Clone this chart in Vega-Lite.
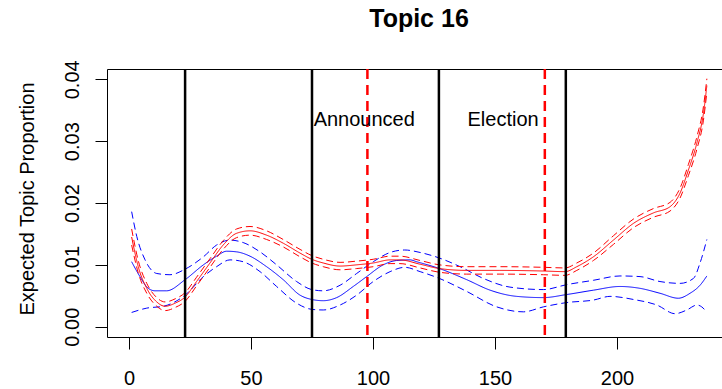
{
  "$schema": "https://vega.github.io/schema/vega-lite/v6.json",
  "width": 615,
  "height": 268,
  "autosize": {"type": "none"},
  "padding": {"left": 107, "top": 69, "right": 0, "bottom": 52},
  "background": "white",
  "config": {
    "font": "Liberation Sans",
    "view": {"stroke": "black", "strokeWidth": 1},
    "axis": {
      "grid": false, "domain": false, "tickColor": "black", "tickSize": 12, "tickWidth": 1,
      "labelColor": "black", "labelFontSize": 20, "labelFont": "Liberation Sans",
      "titleColor": "black", "titleFont": "Liberation Sans", "titleFontSize": 20, "titleFontWeight": "normal"
    }
  },
  "title": {
    "text": "Topic 16", "fontSize": 25, "fontWeight": "bold", "font": "Liberation Sans", "color": "black",
    "anchor": "middle", "frame": "group", "baseline": "alphabetic", "offset": 8, "dx": 4.5
  },
  "datasets": {
    "curves": [
      {"group":"control","band":"mean","x":1.1,"y":0.0105},
      {"group":"control","band":"mean","x":4.5,"y":0.0081},
      {"group":"control","band":"mean","x":7.9,"y":0.0062},
      {"group":"control","band":"mean","x":10.7,"y":0.0058},
      {"group":"control","band":"mean","x":15.4,"y":0.0058},
      {"group":"control","band":"mean","x":23,"y":0.0076},
      {"group":"control","band":"mean","x":30.5,"y":0.0100},
      {"group":"control","band":"mean","x":35.9,"y":0.0114},
      {"group":"control","band":"mean","x":40,"y":0.0122},
      {"group":"control","band":"mean","x":44.1,"y":0.0121},
      {"group":"control","band":"mean","x":49.6,"y":0.0114},
      {"group":"control","band":"mean","x":56.4,"y":0.0097},
      {"group":"control","band":"mean","x":63.2,"y":0.0076},
      {"group":"control","band":"mean","x":70.1,"y":0.0051},
      {"group":"control","band":"mean","x":74.9,"y":0.0044},
      {"group":"control","band":"mean","x":79.6,"y":0.0042},
      {"group":"control","band":"mean","x":85.1,"y":0.0047},
      {"group":"control","band":"mean","x":91.9,"y":0.0065},
      {"group":"control","band":"mean","x":97.4,"y":0.0081},
      {"group":"control","band":"mean","x":104.2,"y":0.0100},
      {"group":"control","band":"mean","x":109.7,"y":0.0107},
      {"group":"control","band":"mean","x":115.2,"y":0.0108},
      {"group":"control","band":"mean","x":117.9,"y":0.0105},
      {"group":"control","band":"mean","x":127.2,"y":0.0094},
      {"group":"control","band":"mean","x":138.4,"y":0.0076},
      {"group":"control","band":"mean","x":148,"y":0.0059},
      {"group":"control","band":"mean","x":158.9,"y":0.0049},
      {"group":"control","band":"mean","x":169.8,"y":0.0047},
      {"group":"control","band":"mean","x":179.4,"y":0.0052},
      {"group":"control","band":"mean","x":190.3,"y":0.0059},
      {"group":"control","band":"mean","x":201.2,"y":0.0065},
      {"group":"control","band":"mean","x":209.4,"y":0.0062},
      {"group":"control","band":"mean","x":217.6,"y":0.0054},
      {"group":"control","band":"mean","x":225.1,"y":0.0046},
      {"group":"control","band":"mean","x":229.9,"y":0.0054},
      {"group":"control","band":"mean","x":234,"y":0.0067},
      {"group":"control","band":"mean","x":236.8,"y":0.0082},

      {"group":"control","band":"upper","x":1.1,"y":0.0186},
      {"group":"control","band":"upper","x":3.2,"y":0.0146},
      {"group":"control","band":"upper","x":6.6,"y":0.0108},
      {"group":"control","band":"upper","x":11.4,"y":0.0086},
      {"group":"control","band":"upper","x":16.8,"y":0.0084},
      {"group":"control","band":"upper","x":23,"y":0.0093},
      {"group":"control","band":"upper","x":30.5,"y":0.0113},
      {"group":"control","band":"upper","x":35.9,"y":0.0132},
      {"group":"control","band":"upper","x":41.4,"y":0.0140},
      {"group":"control","band":"upper","x":46.8,"y":0.0136},
      {"group":"control","band":"upper","x":53.7,"y":0.0121},
      {"group":"control","band":"upper","x":60.5,"y":0.0100},
      {"group":"control","band":"upper","x":68.7,"y":0.0073},
      {"group":"control","band":"upper","x":74.9,"y":0.0060},
      {"group":"control","band":"upper","x":79.6,"y":0.0058},
      {"group":"control","band":"upper","x":86.5,"y":0.0067},
      {"group":"control","band":"upper","x":93.3,"y":0.0086},
      {"group":"control","band":"upper","x":100.1,"y":0.0105},
      {"group":"control","band":"upper","x":107,"y":0.0120},
      {"group":"control","band":"upper","x":113,"y":0.0124},
      {"group":"control","band":"upper","x":119.3,"y":0.0120},
      {"group":"control","band":"upper","x":127.2,"y":0.0111},
      {"group":"control","band":"upper","x":135.7,"y":0.0097},
      {"group":"control","band":"upper","x":145.2,"y":0.0078},
      {"group":"control","band":"upper","x":156.1,"y":0.0064},
      {"group":"control","band":"upper","x":169.8,"y":0.0060},
      {"group":"control","band":"upper","x":179.4,"y":0.0068},
      {"group":"control","band":"upper","x":190.3,"y":0.0075},
      {"group":"control","band":"upper","x":201.2,"y":0.0082},
      {"group":"control","band":"upper","x":209.4,"y":0.0081},
      {"group":"control","band":"upper","x":217.6,"y":0.0073},
      {"group":"control","band":"upper","x":225.8,"y":0.0070},
      {"group":"control","band":"upper","x":231.3,"y":0.0078},
      {"group":"control","band":"upper","x":234,"y":0.0103},
      {"group":"control","band":"upper","x":236.8,"y":0.0141},

      {"group":"control","band":"lower","x":1.1,"y":0.0023},
      {"group":"control","band":"lower","x":7.3,"y":0.0030},
      {"group":"control","band":"lower","x":14.1,"y":0.0033},
      {"group":"control","band":"lower","x":23,"y":0.0051},
      {"group":"control","band":"lower","x":30.5,"y":0.0081},
      {"group":"control","band":"lower","x":35.9,"y":0.0097},
      {"group":"control","band":"lower","x":41.4,"y":0.0108},
      {"group":"control","band":"lower","x":46.8,"y":0.0105},
      {"group":"control","band":"lower","x":53.7,"y":0.0089},
      {"group":"control","band":"lower","x":60.5,"y":0.0065},
      {"group":"control","band":"lower","x":68.7,"y":0.0038},
      {"group":"control","band":"lower","x":74.9,"y":0.0028},
      {"group":"control","band":"lower","x":79.6,"y":0.0027},
      {"group":"control","band":"lower","x":86.5,"y":0.0035},
      {"group":"control","band":"lower","x":93.3,"y":0.0051},
      {"group":"control","band":"lower","x":100.1,"y":0.0073},
      {"group":"control","band":"lower","x":107,"y":0.0089},
      {"group":"control","band":"lower","x":113,"y":0.0096},
      {"group":"control","band":"lower","x":119.3,"y":0.0089},
      {"group":"control","band":"lower","x":127.2,"y":0.0078},
      {"group":"control","band":"lower","x":138.4,"y":0.0057},
      {"group":"control","band":"lower","x":150.7,"y":0.0032},
      {"group":"control","band":"lower","x":161.6,"y":0.0024},
      {"group":"control","band":"lower","x":169.8,"y":0.0032},
      {"group":"control","band":"lower","x":179.4,"y":0.0039},
      {"group":"control","band":"lower","x":190.3,"y":0.0043},
      {"group":"control","band":"lower","x":197.1,"y":0.0049},
      {"group":"control","band":"lower","x":206.7,"y":0.0044},
      {"group":"control","band":"lower","x":216.3,"y":0.0035},
      {"group":"control","band":"lower","x":223.8,"y":0.0021},
      {"group":"control","band":"lower","x":228.6,"y":0.0027},
      {"group":"control","band":"lower","x":232.7,"y":0.0035},
      {"group":"control","band":"lower","x":234.7,"y":0.0032},
      {"group":"control","band":"lower","x":236.8,"y":0.0023},

      {"group":"treated","band":"mean","x":1.1,"y":0.0145},
      {"group":"treated","band":"mean","x":3.8,"y":0.0097},
      {"group":"treated","band":"mean","x":7.3,"y":0.0062},
      {"group":"treated","band":"mean","x":11.4,"y":0.0040},
      {"group":"treated","band":"mean","x":14.8,"y":0.0033},
      {"group":"treated","band":"mean","x":18.9,"y":0.0038},
      {"group":"treated","band":"mean","x":23,"y":0.0048},
      {"group":"treated","band":"mean","x":27.7,"y":0.0073},
      {"group":"treated","band":"mean","x":33.2,"y":0.0103},
      {"group":"treated","band":"mean","x":38.6,"y":0.0132},
      {"group":"treated","band":"mean","x":44.1,"y":0.0151},
      {"group":"treated","band":"mean","x":49.6,"y":0.0155},
      {"group":"treated","band":"mean","x":56.4,"y":0.0148},
      {"group":"treated","band":"mean","x":63.2,"y":0.0135},
      {"group":"treated","band":"mean","x":70.1,"y":0.0119},
      {"group":"treated","band":"mean","x":74.9,"y":0.0109},
      {"group":"treated","band":"mean","x":79.6,"y":0.0103},
      {"group":"treated","band":"mean","x":86.5,"y":0.0098},
      {"group":"treated","band":"mean","x":93.3,"y":0.0100},
      {"group":"treated","band":"mean","x":100.1,"y":0.0103},
      {"group":"treated","band":"mean","x":107,"y":0.0108},
      {"group":"treated","band":"mean","x":111,"y":0.0108},
      {"group":"treated","band":"mean","x":119.3,"y":0.0101},
      {"group":"treated","band":"mean","x":127.2,"y":0.0094},
      {"group":"treated","band":"mean","x":138.4,"y":0.0091},
      {"group":"treated","band":"mean","x":152,"y":0.0091},
      {"group":"treated","band":"mean","x":169.8,"y":0.0090},
      {"group":"treated","band":"mean","x":178.7,"y":0.0089},
      {"group":"treated","band":"mean","x":183.5,"y":0.0097},
      {"group":"treated","band":"mean","x":190.3,"y":0.0113},
      {"group":"treated","band":"mean","x":198.5,"y":0.0140},
      {"group":"treated","band":"mean","x":206.7,"y":0.0167},
      {"group":"treated","band":"mean","x":214.9,"y":0.0184},
      {"group":"treated","band":"mean","x":221.7,"y":0.0194},
      {"group":"treated","band":"mean","x":225.8,"y":0.0216},
      {"group":"treated","band":"mean","x":229.2,"y":0.0253},
      {"group":"treated","band":"mean","x":232.7,"y":0.0297},
      {"group":"treated","band":"mean","x":235.4,"y":0.0345},
      {"group":"treated","band":"mean","x":236.8,"y":0.0390},

      {"group":"treated","band":"upper","x":1.1,"y":0.0158},
      {"group":"treated","band":"upper","x":3.8,"y":0.0107},
      {"group":"treated","band":"upper","x":7.3,"y":0.0070},
      {"group":"treated","band":"upper","x":11.4,"y":0.0047},
      {"group":"treated","band":"upper","x":14.8,"y":0.0040},
      {"group":"treated","band":"upper","x":18.9,"y":0.0045},
      {"group":"treated","band":"upper","x":23,"y":0.0055},
      {"group":"treated","band":"upper","x":27.7,"y":0.0080},
      {"group":"treated","band":"upper","x":33.2,"y":0.0110},
      {"group":"treated","band":"upper","x":38.6,"y":0.0139},
      {"group":"treated","band":"upper","x":44.1,"y":0.0158},
      {"group":"treated","band":"upper","x":49.6,"y":0.0162},
      {"group":"treated","band":"upper","x":56.4,"y":0.0155},
      {"group":"treated","band":"upper","x":63.2,"y":0.0141},
      {"group":"treated","band":"upper","x":70.1,"y":0.0125},
      {"group":"treated","band":"upper","x":74.9,"y":0.0115},
      {"group":"treated","band":"upper","x":79.6,"y":0.0109},
      {"group":"treated","band":"upper","x":86.5,"y":0.0104},
      {"group":"treated","band":"upper","x":93.3,"y":0.0106},
      {"group":"treated","band":"upper","x":100.1,"y":0.0109},
      {"group":"treated","band":"upper","x":107,"y":0.0114},
      {"group":"treated","band":"upper","x":111,"y":0.0114},
      {"group":"treated","band":"upper","x":119.3,"y":0.0107},
      {"group":"treated","band":"upper","x":127.2,"y":0.0100},
      {"group":"treated","band":"upper","x":138.4,"y":0.0097},
      {"group":"treated","band":"upper","x":152,"y":0.0097},
      {"group":"treated","band":"upper","x":169.8,"y":0.0096},
      {"group":"treated","band":"upper","x":178.7,"y":0.0095},
      {"group":"treated","band":"upper","x":183.5,"y":0.0103},
      {"group":"treated","band":"upper","x":190.3,"y":0.0119},
      {"group":"treated","band":"upper","x":198.5,"y":0.0147},
      {"group":"treated","band":"upper","x":206.7,"y":0.0174},
      {"group":"treated","band":"upper","x":214.9,"y":0.0191},
      {"group":"treated","band":"upper","x":221.7,"y":0.0201},
      {"group":"treated","band":"upper","x":225.8,"y":0.0224},
      {"group":"treated","band":"upper","x":229.2,"y":0.0262},
      {"group":"treated","band":"upper","x":232.7,"y":0.0307},
      {"group":"treated","band":"upper","x":235.4,"y":0.0356},
      {"group":"treated","band":"upper","x":236.8,"y":0.0401},

      {"group":"treated","band":"lower","x":1.1,"y":0.0132},
      {"group":"treated","band":"lower","x":3.8,"y":0.0087},
      {"group":"treated","band":"lower","x":7.3,"y":0.0054},
      {"group":"treated","band":"lower","x":11.4,"y":0.0033},
      {"group":"treated","band":"lower","x":14.8,"y":0.0026},
      {"group":"treated","band":"lower","x":18.9,"y":0.0031},
      {"group":"treated","band":"lower","x":23,"y":0.0041},
      {"group":"treated","band":"lower","x":27.7,"y":0.0066},
      {"group":"treated","band":"lower","x":33.2,"y":0.0096},
      {"group":"treated","band":"lower","x":38.6,"y":0.0125},
      {"group":"treated","band":"lower","x":44.1,"y":0.0144},
      {"group":"treated","band":"lower","x":49.6,"y":0.0148},
      {"group":"treated","band":"lower","x":56.4,"y":0.0141},
      {"group":"treated","band":"lower","x":63.2,"y":0.0129},
      {"group":"treated","band":"lower","x":70.1,"y":0.0113},
      {"group":"treated","band":"lower","x":74.9,"y":0.0103},
      {"group":"treated","band":"lower","x":79.6,"y":0.0097},
      {"group":"treated","band":"lower","x":86.5,"y":0.0092},
      {"group":"treated","band":"lower","x":93.3,"y":0.0094},
      {"group":"treated","band":"lower","x":100.1,"y":0.0097},
      {"group":"treated","band":"lower","x":107,"y":0.0102},
      {"group":"treated","band":"lower","x":111,"y":0.0102},
      {"group":"treated","band":"lower","x":119.3,"y":0.0095},
      {"group":"treated","band":"lower","x":127.2,"y":0.0088},
      {"group":"treated","band":"lower","x":138.4,"y":0.0085},
      {"group":"treated","band":"lower","x":152,"y":0.0085},
      {"group":"treated","band":"lower","x":169.8,"y":0.0084},
      {"group":"treated","band":"lower","x":178.7,"y":0.0083},
      {"group":"treated","band":"lower","x":183.5,"y":0.0091},
      {"group":"treated","band":"lower","x":190.3,"y":0.0107},
      {"group":"treated","band":"lower","x":198.5,"y":0.0133},
      {"group":"treated","band":"lower","x":206.7,"y":0.0160},
      {"group":"treated","band":"lower","x":214.9,"y":0.0177},
      {"group":"treated","band":"lower","x":221.7,"y":0.0187},
      {"group":"treated","band":"lower","x":225.8,"y":0.0208},
      {"group":"treated","band":"lower","x":229.2,"y":0.0244},
      {"group":"treated","band":"lower","x":232.7,"y":0.0287},
      {"group":"treated","band":"lower","x":235.4,"y":0.0334},
      {"group":"treated","band":"lower","x":236.8,"y":0.0379}
    ],
    "periods": [{"x": 23}, {"x": 75}, {"x": 127}, {"x": 179}],
    "events": [{"x": 97.7, "label": "Announced", "lx": 96.4, "ly": 0.03245}, {"x": 170.4, "label": "Election", "lx": 153.3, "ly": 0.03245}]
  },
  "layer": [
    {
      "data": {"name": "curves"},
      "mark": {"type": "line", "strokeWidth": 1, "interpolate": "monotone"},
      "encoding": {
        "x": {"field": "x", "type": "quantitative", "scale": {"domain": [-9, 243], "nice": false, "zero": false},
              "axis": {"values": [0, 50, 100, 150, 200], "title": null, "labelBaseline": "alphabetic", "labelPadding": 35}},
        "y": {"field": "y", "type": "quantitative", "scale": {"domain": [-0.00167, 0.04167], "nice": false, "zero": false},
              "axis": {"values": [0, 0.01, 0.02, 0.03, 0.04], "format": ".2f", "title": "Expected Topic Proportion",
                       "labelAngle": -90, "labelAlign": "center", "labelBaseline": "alphabetic", "labelPadding": 17,
                       "titleAngle": -90, "titleAlign": "center", "titleBaseline": "alphabetic", "titleX": -74, "titleY": 129.5}},
        "color": {"field": "group", "type": "nominal", "scale": {"domain": ["control", "treated"], "range": ["#0000ff", "#ff0000"]}, "legend": null},
        "strokeDash": {"field": "band", "type": "nominal", "scale": {"domain": ["mean", "upper", "lower"], "range": [[1, 0], [7, 4], [7, 4]]}, "legend": null},
        "detail": {"field": "band"}
      }
    },
    {
      "data": {"name": "periods"},
      "mark": {"type": "rule", "color": "black", "strokeWidth": 2.5},
      "encoding": {
        "x": {"field": "x", "type": "quantitative", "scale": {"domain": [-9, 243], "nice": false, "zero": false}}
      }
    },
    {
      "data": {"name": "events"},
      "mark": {"type": "rule", "color": "#ff0000", "strokeWidth": 2.5, "strokeDash": [10, 6]},
      "encoding": {
        "x": {"field": "x", "type": "quantitative", "scale": {"domain": [-9, 243], "nice": false, "zero": false}}
      }
    },
    {
      "data": {"name": "events"},
      "mark": {"type": "text", "fontSize": 20, "font": "Liberation Sans", "color": "black", "align": "center", "baseline": "alphabetic"},
      "encoding": {
        "x": {"field": "lx", "type": "quantitative", "scale": {"domain": [-9, 243], "nice": false, "zero": false}},
        "y": {"field": "ly", "type": "quantitative", "scale": {"domain": [-0.00167, 0.04167], "nice": false, "zero": false}},
        "text": {"field": "label"}
      }
    }
  ]
}
